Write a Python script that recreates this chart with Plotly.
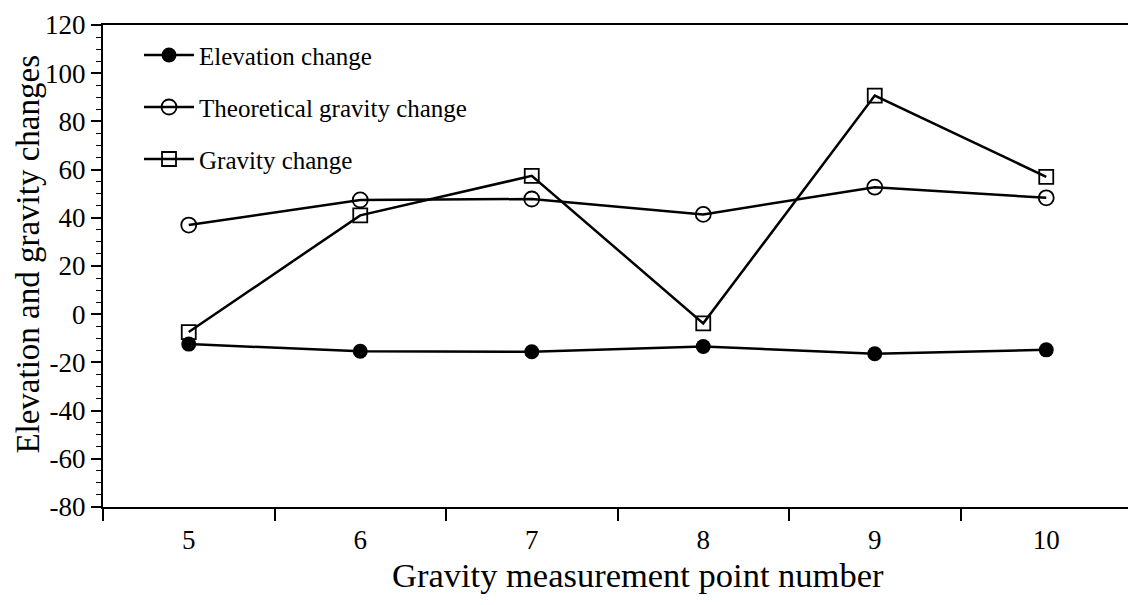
import plotly.graph_objects as go

points = ["5", "6", "7", "8", "9", "10"]
elevation = [-12.4, -15.4, -15.6, -13.4, -16.4, -14.8]
theoretical = [37.0, 47.4, 47.8, 41.4, 52.7, 48.3]
gravity = [-7.4, 41.0, 57.4, -3.8, 90.7, 57.0]
y_tickvals = [-80, -60, -40, -20, 0, 20, 40, 60, 80, 100, 120]
y_ticktext = ["-80", "-60", "-40", "-20", "0", "20", "40", "60", "80", "100", "120"]

FONT = "Liberation Serif"

fig = go.Figure()
fig.add_trace(go.Scatter(
    x=points, y=elevation, name="Elevation change", legendgroup="a",
    mode="lines+markers", line=dict(color="black", width=2.5),
    marker=dict(symbol="circle", size=15, color="black")))
fig.add_trace(go.Scatter(
    x=points, y=theoretical, name="Theoretical gravity change", legendgroup="b",
    mode="lines+markers", line=dict(color="black", width=2.5),
    marker=dict(symbol="circle-open", size=15, color="black", line=dict(width=1.8))))
fig.add_trace(go.Scatter(
    x=points, y=gravity, name="Gravity change", legendgroup="c",
    mode="lines+markers", line=dict(color="black", width=2.5),
    marker=dict(symbol="square-open", size=14, color="black", line=dict(width=1.8))))

fig.update_layout(
    width=1128, height=597,
    margin=dict(l=95, r=2, t=16, b=98),
    paper_bgcolor="white", plot_bgcolor="white",
    font=dict(family=FONT, color="black"),
    showlegend=True,
    legend=dict(
        x=0.035, y=0.985, xanchor="left", yanchor="top",
        font=dict(family=FONT, size=25, color="black"),
        bgcolor="rgba(0,0,0,0)", tracegroupgap=16.5, itemwidth=50,
    ),
    xaxis=dict(
        type="category", range=[-0.5, 5.5],
        showline=True, linecolor="black", linewidth=2, mirror=True,
        ticks="outside", tickson="boundaries", ticklen=12, tickwidth=1.5, tickcolor="black",
        showgrid=False, zeroline=False, ticklabelstandoff=8,
        tickfont=dict(family=FONT, size=27, color="black"),
    ),
    yaxis=dict(
        range=[-80, 120], tickmode="array", tickvals=y_tickvals, ticktext=y_ticktext,
        showline=True, linecolor="black", linewidth=2, mirror=True,
        ticks="outside", ticklen=10, tickwidth=1.5, tickcolor="black",
        minor=dict(dtick=5, tick0=0, ticks="outside", ticklen=5, tickwidth=1, tickcolor="black", showgrid=False),
        showgrid=False, zeroline=False,
        tickfont=dict(family=FONT, size=27, color="black"),
    ),
    annotations=[
        dict(text="Gravity measurement point number", xref="paper", yref="paper",
             x=0.5199, y=-0.1408, xanchor="center", yanchor="middle", showarrow=False,
             font=dict(family=FONT, size=34.5, color="black")),
        dict(text="Elevation and gravity changes", xref="paper", yref="paper",
             x=-0.0727, y=0.524, xanchor="center", yanchor="middle", showarrow=False,
             textangle=-90, font=dict(family=FONT, size=33, color="black")),
    ],
)

fig.write_html("out.html")
